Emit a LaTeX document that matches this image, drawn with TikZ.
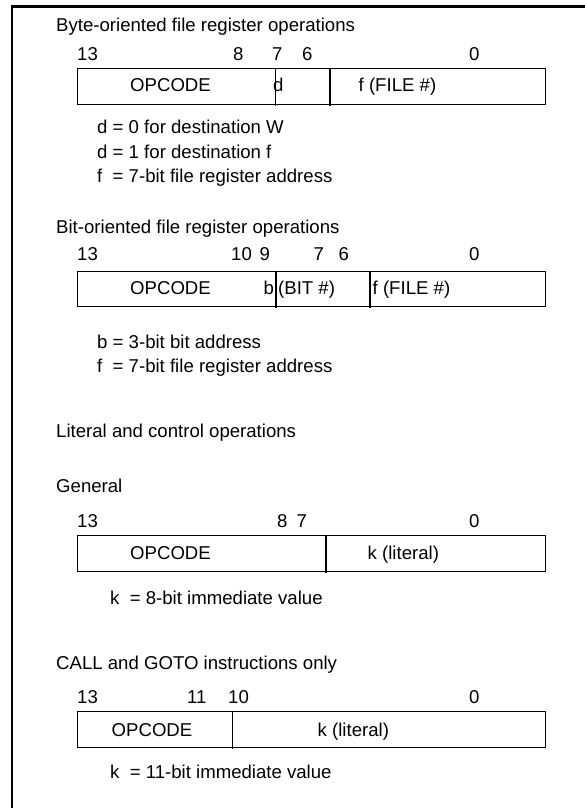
\documentclass[tikz,border=0pt]{standalone}
\usepackage{fontspec}
\setmainfont{Liberation Sans}
\begin{document}
\begin{tikzpicture}[x=1pt,y=-1pt,
  lbl/.style={anchor=base west, inner sep=0pt, font=\fontsize{18.6}{22}\selectfont},
  regbox/.style={draw, line width=1.1pt, anchor=north west, inner sep=0pt,
                 minimum width=468pt, minimum height=36pt},
  divider/.style={line width=1.6pt},
  frame/.style={line width=2.6pt}]
\useasboundingbox (0,0) rectangle (585,808);
% outer frame (left and top edges)
\draw[frame] (12,808) -- (12,6.3) -- (585,6.3);

% ---------- Byte-oriented ----------
\node[lbl] (t1) at (56,32) {Byte-oriented file register operations};
\node[lbl] (a13) at (77,60) {13};
\node[lbl] (a8) at (233,60) {8};
\node[lbl] (a7) at (272,60) {7};
\node[lbl] (a6) at (302,60) {6};
\node[lbl] (a0) at (469,60) {0};
\node[regbox] (box1) at (77,68) {};
\draw[divider] (275.5,68) -- (275.5,106);
\draw[divider] (330,68) -- (330,106);
\node[lbl] (op1) at (130,92) {OPCODE};
\node[lbl] (d1) at (273,92) {d};
\node[lbl] (f1) at (358.5,92) {f (FILE \#)};
\node[lbl] (n1a) at (97,133) {d = 0 for destination W};
\node[lbl] (n1b) at (97,158) {d = 1 for destination f};
\node[lbl] (n1c) at (97,182) {f\ \ = 7-bit file register address};

% ---------- Bit-oriented ----------
\node[lbl] (t2) at (56,233) {Bit-oriented file register operations};
\node[lbl] (b13) at (77,260) {13};
\node[lbl] (b10) at (231,260) {10};
\node[lbl] (b9) at (259.5,260) {9};
\node[lbl] (b7) at (313.5,260) {7};
\node[lbl] (b6) at (338.5,260) {6};
\node[lbl] (b0) at (469,260) {0};
\node[regbox, minimum height=35pt] (box2) at (77,271) {};
\draw[divider] (276,271) -- (276,308);
\draw[divider] (370,271) -- (370,308);
\node[lbl] (op2) at (130,294) {OPCODE};
\node[lbl] (bb) at (263.5,294) {b};
\node[lbl] (bit) at (278,294) {(BIT \#)};
\node[lbl] (f2) at (372.5,294) {f (FILE \#)};
\node[lbl] (n2a) at (97,348) {b = 3-bit bit address};
\node[lbl] (n2b) at (97,372) {f\ \ = 7-bit file register address};

% ---------- Literal and control ----------
\node[lbl] (t3) at (56,437) {Literal and control operations};
\node[lbl] (t3g) at (56,492) {General};
\node[lbl] (c13) at (77,527) {13};
\node[lbl] (c8) at (277,527) {8};
\node[lbl] (c7) at (296.5,527) {7};
\node[lbl] (c0) at (469,527) {0};
\node[regbox] (box3) at (77,535) {};
\draw[divider] (326,535) -- (326,573);
\node[lbl] (op3) at (130,559) {OPCODE};
\node[lbl] (k3) at (367.5,559) {k (literal)};
\node[lbl] (n3) at (110,604) {k\ \ = 8-bit immediate value};

% ---------- CALL and GOTO ----------
\node[lbl] (t4) at (56,669) {CALL and GOTO instructions only};
\node[lbl] (e13) at (77,703) {13};
\node[lbl] (e11) at (187,703) {11};
\node[lbl] (e10) at (228,703) {10};
\node[lbl] (e0) at (469,703) {0};
\node[regbox] (box4) at (77,711) {};
\draw[divider] (232.5,711) -- (232.5,749);
\node[lbl] (op4) at (111.5,736) {OPCODE};
\node[lbl] (k4) at (317.5,736) {k (literal)};
\node[lbl] (n4) at (110,778) {k\ \ = 11-bit immediate value};
\end{tikzpicture}
\end{document}
